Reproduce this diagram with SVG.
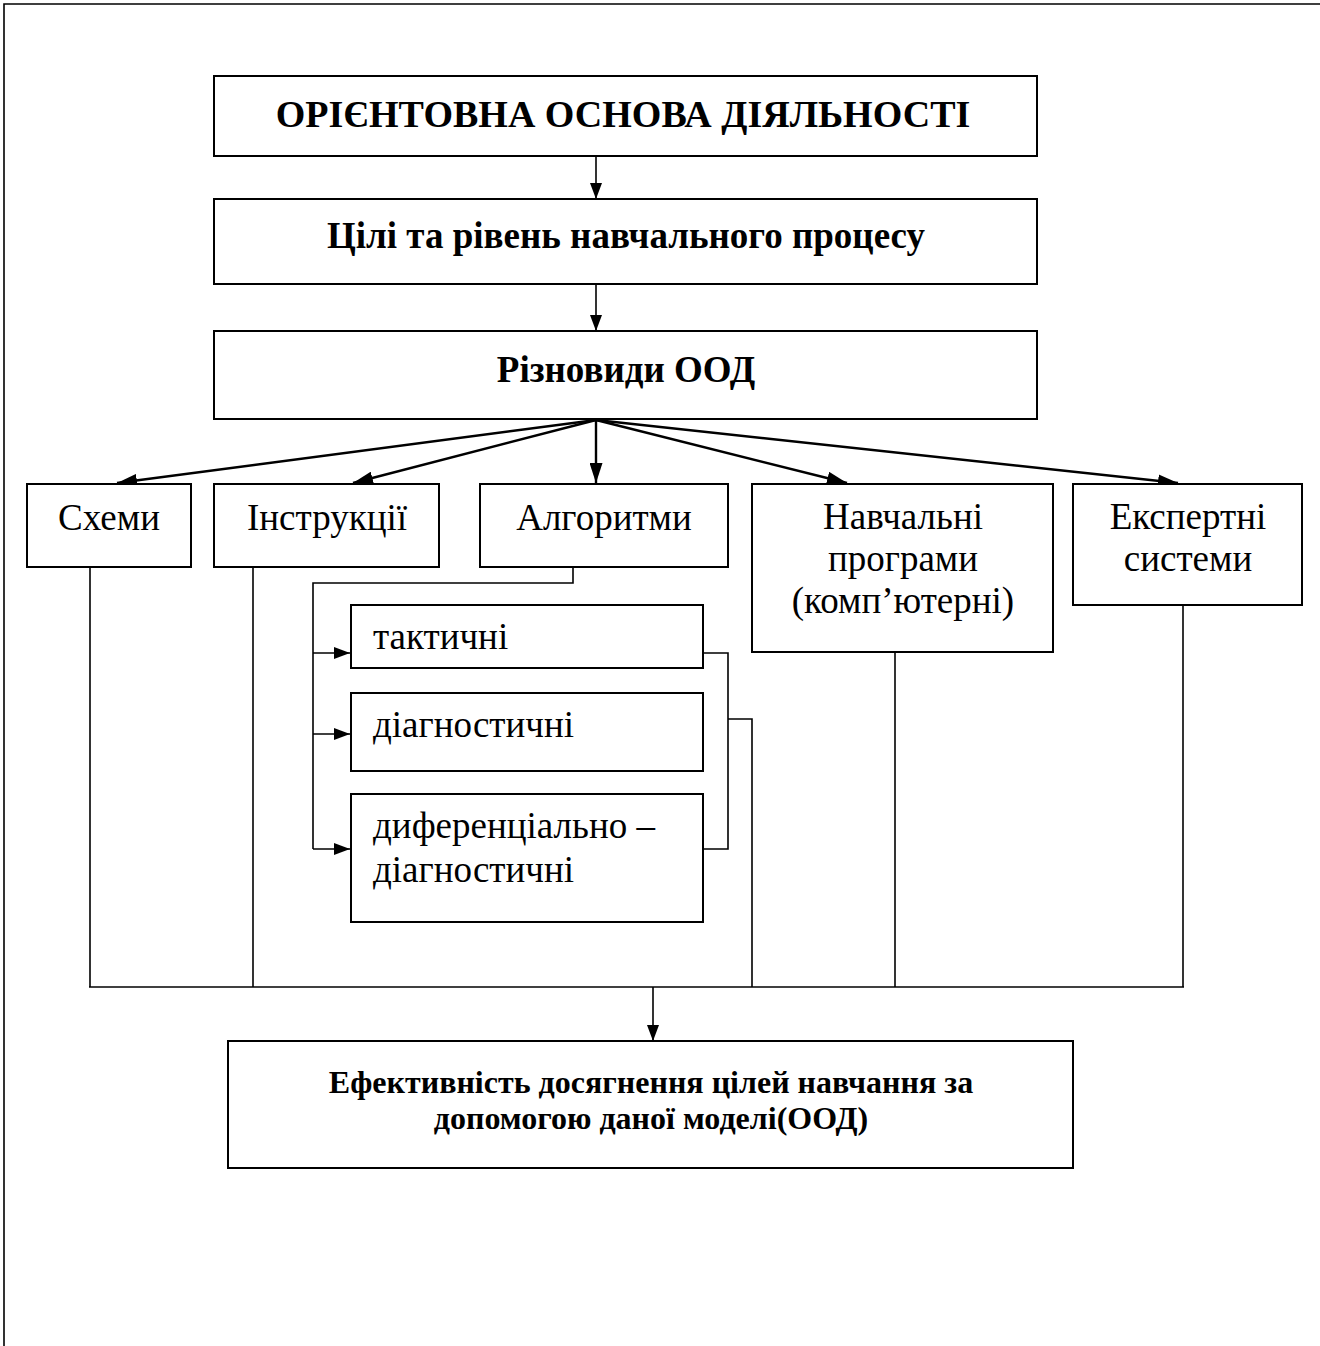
<svg xmlns="http://www.w3.org/2000/svg" width="1320" height="1346" viewBox="0 0 1320 1346">
<style>
.box{fill:#fff;stroke:#000;stroke-width:2}
.ln{fill:none;stroke:#000;stroke-width:1.6}
.fan{fill:none;stroke:#000;stroke-width:2.4}
.t{font-family:"Liberation Serif","Times New Roman",serif;font-size:37px;fill:#000}
.c{text-anchor:middle}
.b{font-weight:bold}
</style>
<defs>
<marker id="ah" viewBox="0 0 16 12" refX="16" refY="6" markerWidth="16" markerHeight="12" markerUnits="userSpaceOnUse" orient="auto">
<path d="M0,0 L16,6 L0,12 z" fill="#000"/>
</marker>
<marker id="ahf" viewBox="0 0 20 13" refX="20" refY="6.5" markerWidth="20" markerHeight="13" markerUnits="userSpaceOnUse" orient="auto">
<path d="M0,0 L20,6.5 L0,13 z" fill="#000"/>
</marker>
</defs>
<rect width="1320" height="1346" fill="#fff"/>
<g id="frame">
<path class="ln" d="M4,1346 V4 H1320" stroke-width="2"/>
</g>
<g id="connectors">
<line class="ln" x1="596" y1="156" x2="596" y2="199" marker-end="url(#ah)"/>
<line class="ln" x1="596" y1="284" x2="596" y2="331" marker-end="url(#ah)"/>
<line class="fan" x1="596" y1="420" x2="117" y2="483" marker-end="url(#ahf)"/>
<line class="fan" x1="596" y1="420" x2="353" y2="483" marker-end="url(#ahf)"/>
<line class="fan" x1="596" y1="420" x2="596" y2="483" marker-end="url(#ahf)"/>
<line class="fan" x1="596" y1="420" x2="847" y2="483" marker-end="url(#ahf)"/>
<line class="fan" x1="596" y1="420" x2="1178" y2="483" marker-end="url(#ahf)"/>
<path class="ln" d="M573,567 V583 H313 V849"/>
<line class="ln" x1="313" y1="653" x2="350" y2="653" marker-end="url(#ah)"/>
<line class="ln" x1="313" y1="734" x2="350" y2="734" marker-end="url(#ah)"/>
<line class="ln" x1="313" y1="849" x2="350" y2="849" marker-end="url(#ah)"/>
<path class="ln" d="M703,653 H728 V849 H703"/>
<path class="ln" d="M728,719 H752 V987"/>
<line class="ln" x1="90" y1="567" x2="90" y2="987"/>
<line class="ln" x1="253" y1="567" x2="253" y2="987"/>
<line class="ln" x1="895" y1="652" x2="895" y2="987"/>
<line class="ln" x1="1183" y1="605" x2="1183" y2="987"/>
<line class="ln" x1="89" y1="987" x2="1184" y2="987" stroke-width="2"/>
<line class="ln" x1="653" y1="987" x2="653" y2="1041" marker-end="url(#ah)"/>
</g>
<g id="n-orient">
<rect class="box" x="214" y="76" width="823" height="80"/>
<text class="t c b" x="623" y="127" style="font-size:38px">ОРІЄНТОВНА ОСНОВА ДІЯЛЬНОСТІ</text>
</g>
<g id="n-goals">
<rect class="box" x="214" y="199" width="823" height="85"/>
<text class="t c b" x="626" y="248">Цілі та рівень навчального процесу</text>
</g>
<g id="n-kinds">
<rect class="box" x="214" y="331" width="823" height="88"/>
<text class="t c b" x="626" y="382">Різновиди ООД</text>
</g>
<g id="n-schemes">
<rect class="box" x="27" y="484" width="164" height="83"/>
<text class="t c" x="109" y="530">Схеми</text>
</g>
<g id="n-instr">
<rect class="box" x="214" y="484" width="225" height="83"/>
<text class="t c" x="327" y="530">Інструкції</text>
</g>
<g id="n-algo">
<rect class="box" x="480" y="484" width="248" height="83"/>
<text class="t c" x="604" y="530">Алгоритми</text>
</g>
<g id="n-programs">
<rect class="box" x="752" y="484" width="301" height="168"/>
<text class="t c" x="903" y="529">Навчальні</text>
<text class="t c" x="903" y="571">програми</text>
<text class="t c" x="903" y="613">(комп’ютерні)</text>
</g>
<g id="n-expert">
<rect class="box" x="1073" y="484" width="229" height="121"/>
<text class="t c" x="1188" y="529">Експертні</text>
<text class="t c" x="1188" y="571">системи</text>
</g>
<g id="n-tactical">
<rect class="box" x="351" y="605" width="352" height="63"/>
<text class="t" x="373" y="649">тактичні</text>
</g>
<g id="n-diag">
<rect class="box" x="351" y="693" width="352" height="78"/>
<text class="t" x="373" y="737">діагностичні</text>
</g>
<g id="n-diffdiag">
<rect class="box" x="351" y="794" width="352" height="128"/>
<text class="t" x="373" y="838">диференціально –</text>
<text class="t" x="373" y="882">діагностичні</text>
</g>
<g id="n-result">
<rect class="box" x="228" y="1041" width="845" height="127"/>
<text class="t c b" x="651" y="1093" style="font-size:32px">Ефективність досягнення цілей навчання за</text>
<text class="t c b" x="651" y="1129" style="font-size:32px">допомогою даної моделі(ООД)</text>
</g>
</svg>
